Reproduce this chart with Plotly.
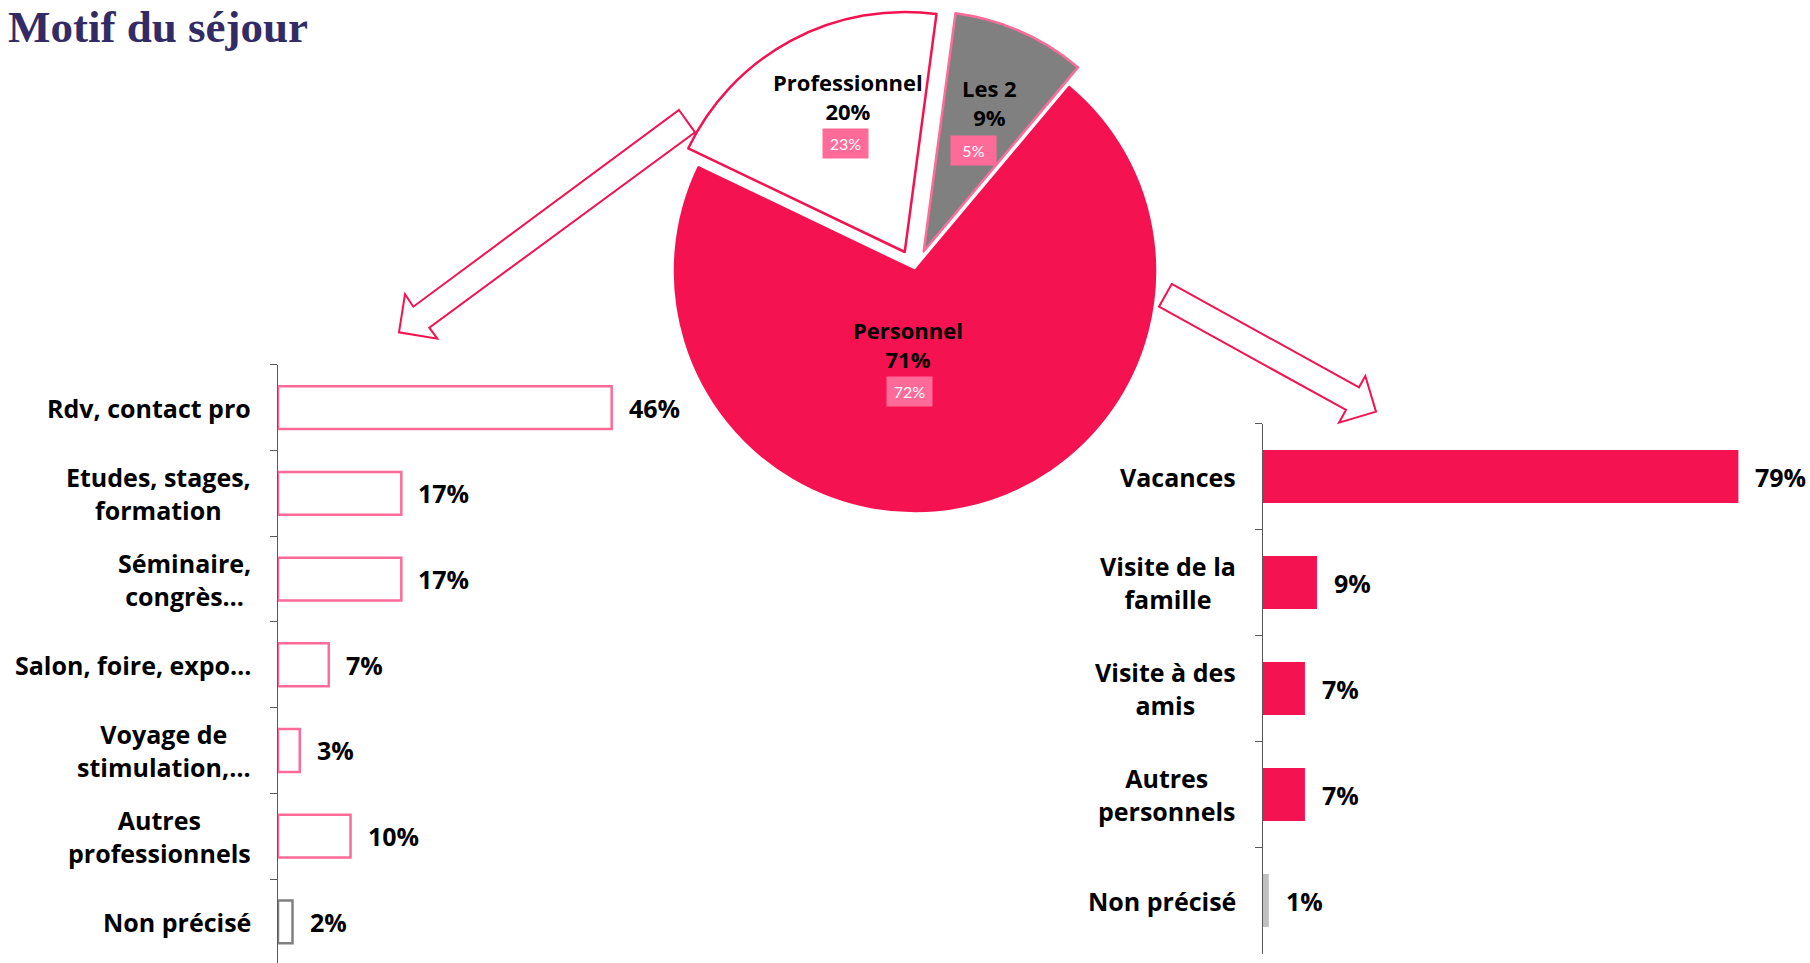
import plotly.graph_objects as go

W, H = 1810, 963

# ---------------- data ----------------
pie_labels = ["Personnel", "Professionnel", "Les 2"]
pie_values = [71, 20, 9]
pie_previous = ["72%", "23%", "5%"]

pro_categories = ["Rdv, contact pro", "Etudes, stages,<br>formation", "Séminaire,<br>congrès…",
                  "Salon, foire, expo…", "Voyage de<br>stimulation,…", "Autres<br>professionnels",
                  "Non précisé"]
pro_values = [46, 17, 17, 7, 3, 10, 2]

perso_categories = ["Vacances", "Visite de la<br>famille", "Visite à des<br>amis",
                    "Autres<br>personnels", "Non précisé"]
perso_values = [79, 9, 7, 7, 1]

# ---------------- style ----------------
RED = "#F41250"
PINK = "#FF6B99"
GRAY = "#808080"
LGRAY = "#C0C0C0"
AXIS = "#595959"
FONT = "Open Sans"


def px(x, y):
    return x / W, 1 - y / H


def path(points):
    pts = [px(x, y) for x, y in points]
    return "M " + " L ".join(f"{a:.5f},{b:.5f}" for a, b in pts) + " Z"


fig = go.Figure()

# pie
PULL = 0.09
half = 240 * (1 + PULL)
fig.add_trace(go.Pie(
    labels=pie_labels, values=pie_values, sort=False, direction="clockwise",
    rotation=40, pull=[0, PULL, PULL], textinfo="none", hoverinfo="skip",
    marker=dict(colors=[RED, "white", GRAY], line=dict(color=[RED, RED, PINK], width=2.5)),
    domain=dict(x=[(915 - half) / W, (915 + half) / W], y=[1 - (271 + half) / H, 1 - (271 - half) / H]),
    showlegend=False,
))

# left bars (professionnel)
fig.add_trace(go.Bar(
    y=pro_categories, x=pro_values, orientation="h", width=0.5,
    marker=dict(color="white", line=dict(color=[PINK] * (len(pro_values) - 1) + [GRAY], width=2.5)),
    xaxis="x", yaxis="y", showlegend=False, hoverinfo="skip",
))

# right bars (personnel)
fig.add_trace(go.Bar(
    y=perso_categories, x=perso_values, orientation="h", width=0.5,
    marker=dict(color=[RED] * (len(perso_values) - 1) + [LGRAY], line=dict(width=0)),
    xaxis="x2", yaxis="y2", showlegend=False, hoverinfo="skip",
))

x1_start = 278 / W
x1_end = (278 + 60 * 7.254) / W
x2_start = 1262.8 / W
x2_end = (1262.8 + 90 * 6.02) / W

hidden_x = dict(showline=False, showgrid=False, zeroline=False, showticklabels=False, ticks="")
cat_y = dict(type="category", showline=True, linecolor=AXIS, linewidth=1, ticks="outside",
             tickson="boundaries", ticklen=7, tickcolor=AXIS, showticklabels=False,
             showgrid=False, zeroline=False)

fig.update_layout(
    width=W, height=H, margin=dict(l=0, r=0, t=0, b=0),
    paper_bgcolor="white", plot_bgcolor="white",
    xaxis=dict(domain=[x1_start, x1_end], range=[0, 60], anchor="y", **hidden_x),
    yaxis=dict(domain=[0, 1 - 364.8 / H], range=[6.48, -0.5], anchor="x", **cat_y),
    xaxis2=dict(domain=[x2_start, x2_end], range=[0, 90], anchor="y2", **hidden_x),
    yaxis2=dict(domain=[1 - 953.5 / H, 1 - 423.6 / H], range=[4.5, -0.5], anchor="x2", **cat_y),
    bargap=0.5,
)

ann = []
# title
ann.append(dict(text="<b>Motif du séjour</b>", x=6 / W, y=1, xref="paper", yref="paper",
                xanchor="left", yanchor="top", yshift=0, showarrow=False,
                font=dict(family="Liberation Serif", size=45, color="#322B66")))

# category labels
for cats, xs, yref in [(pro_categories, x1_start, "y"), (perso_categories, x2_start, "y2")]:
    for c in cats:
        ann.append(dict(text=c, x=xs, y=c, xref="paper", yref=yref, xanchor="right",
                        xshift=-25, align="center", showarrow=False,
                        font=dict(family=FONT, size=25, color="black", weight="bold")))

# value labels
for cats, vals, xref, yref in [(pro_categories, pro_values, "x", "y"),
                               (perso_categories, perso_values, "x2", "y2")]:
    for c, v in zip(cats, vals):
        ann.append(dict(text=f"{v}%", x=v, y=c, xref=xref, yref=yref, xanchor="left",
                        xshift=15, showarrow=False,
                        font=dict(family=FONT, size=25, color="black", weight="bold")))

# pie labels (centre of each two-line text block, and of the small box)
pie_text_pos = {"Personnel": (908, 345), "Professionnel": (848, 97), "Les 2": (989, 103)}
pie_box_pos = {"Personnel": (909, 391), "Professionnel": (845, 143), "Les 2": (973, 151)}
total = sum(pie_values)
for lab, val, prev in zip(pie_labels, pie_values, pie_previous):
    x, y = px(*pie_text_pos[lab])
    ann.append(dict(text=f"{lab}<br>{round(100 * val / total)}%", x=x, y=y, xref="paper",
                    yref="paper", xanchor="center", yanchor="middle", showarrow=False,
                    align="center",
                    font=dict(family=FONT, size=22, color="black", weight="bold")))
    bx, by = px(*pie_box_pos[lab])
    ann.append(dict(text=prev, x=bx, y=by, xref="paper", yref="paper", xanchor="center",
                    yanchor="middle", showarrow=False, bgcolor=PINK, width=41, height=25,
                    borderpad=2, font=dict(family="Lato", size=16, color="white")))

fig.update_layout(annotations=ann)

# block arrows
left_arrow = [(679, 110), (695, 132.3), (429.3, 327.7), (437.3, 338.7), (399, 332.3),
              (405, 294.3), (413.3, 306.7)]
right_arrow = [(1171.7, 284), (1359, 387.3), (1365.3, 376), (1376, 411.7),
               (1339, 422.7), (1346, 410), (1159, 306.7)]
for a in (left_arrow, right_arrow):
    fig.add_shape(type="path", path=path(a), xref="paper", yref="paper",
                  fillcolor="white", line=dict(color=RED, width=2), layer="above")

fig.write_html("out.html", config={"displayModeBar": False},
               post_script="document.body.style.margin='0';")
